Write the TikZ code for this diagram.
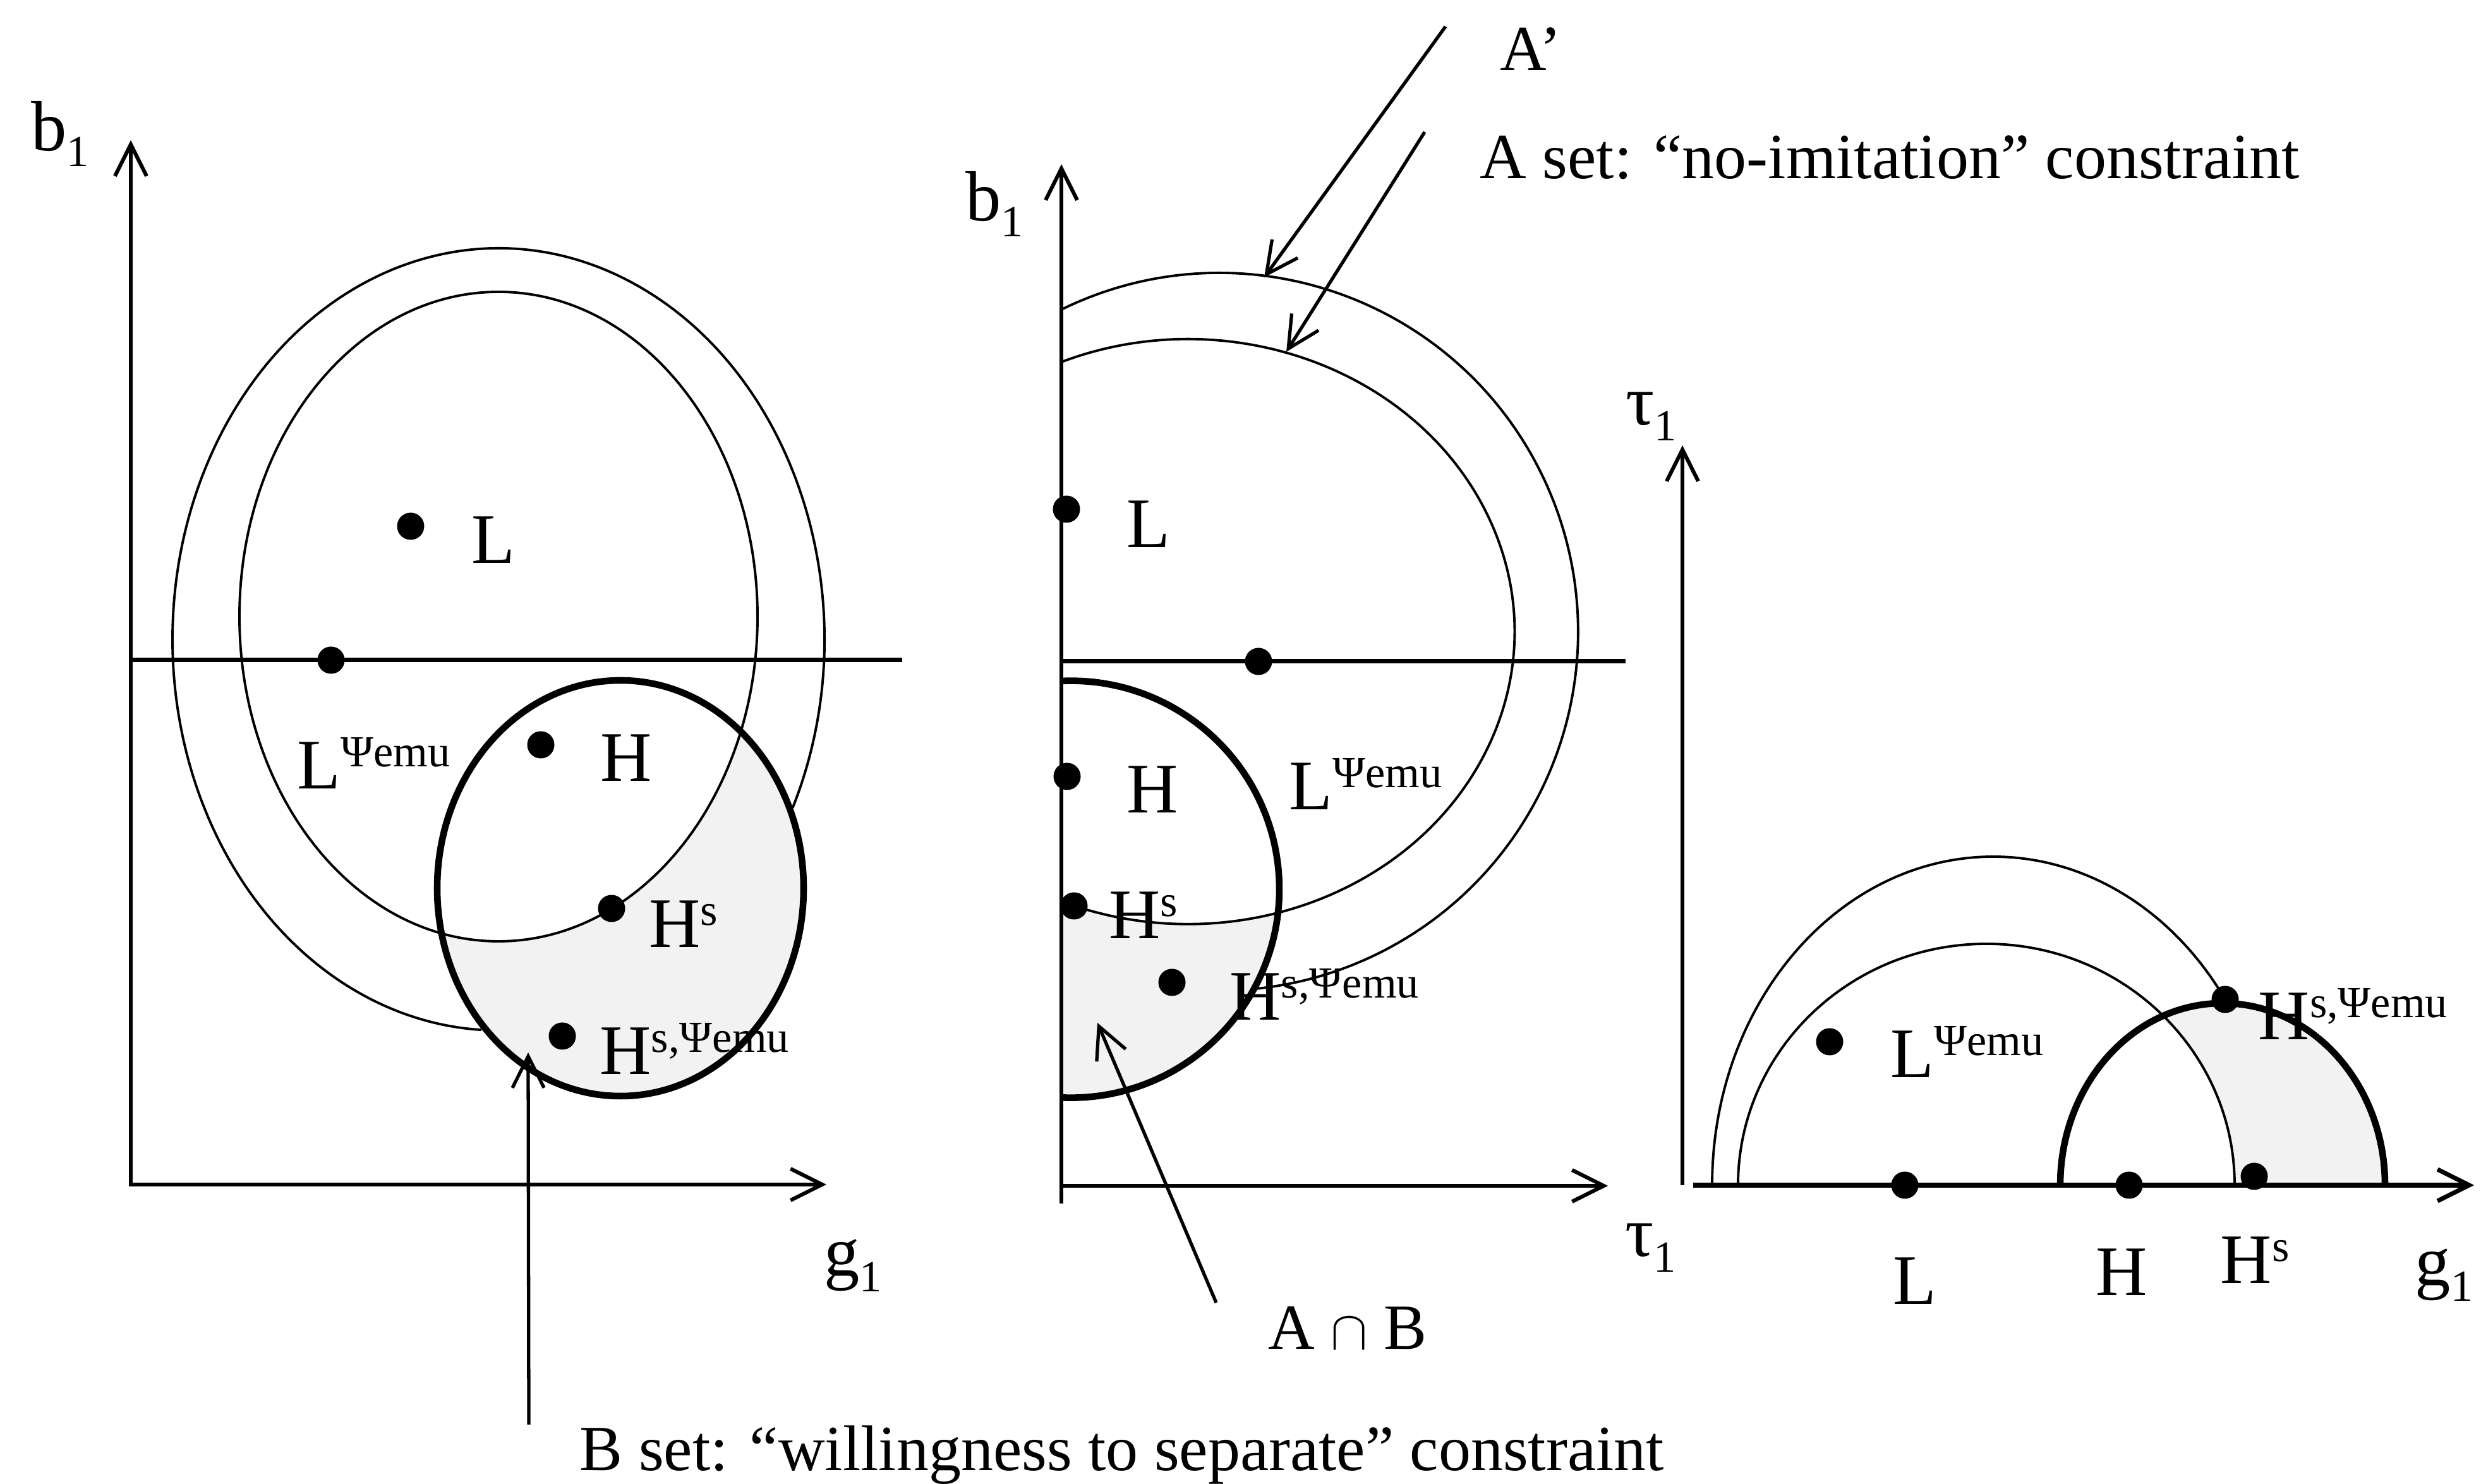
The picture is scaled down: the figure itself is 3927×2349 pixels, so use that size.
\documentclass[tikz,border=0pt]{standalone}
\usepackage{fontspec}
\setmainfont{Liberation Serif}
\usetikzlibrary{arrows.meta}

\newcommand{\sps}[1]{\raisebox{10pt}{\fontsize{20}{20}\selectfont #1}}
\newcommand{\sbs}[1]{\raisebox{-7pt}{\fontsize{20}{20}\selectfont #1}}

\begin{document}
\begin{tikzpicture}[
    x=0.01cm, y=0.01cm,
    >={Straight Barb[length=5mm, width=5mm]},
    every node/.style={inner sep=0pt},
    axes/.style={<->, line width=1.7pt},
    axisline/.style={->, line width=1.7pt},
    pointer/.style={->, line width=1.5pt},
    thincurve/.style={line width=1.1pt},
    bcurve/.style={line width=3pt},
    levelline/.style={line width=2pt},
    abfill/.style={fill=black!5},
    dot/.style={circle, fill=black, minimum size=0.43cm},
    lab/.style={anchor=base west, font=\fontsize{32}{38}\selectfont},
    caption/.style={anchor=base west, font=\fontsize{29}{34}\selectfont},
]

\useasboundingbox (0,0) rectangle (3927,2349);

% ---------------- Panel 1 ----------------
\coordinate (O1) at (207,474);
\coordinate (Y1) at (207,2127);
\coordinate (X1) at (1308,474);
\coordinate (M1) at (207,1304);
\coordinate (M1e) at (1428,1304);

% A n B region
\begin{scope}
    \clip (982,943) ellipse [x radius=290, y radius=329];
    \fill[abfill, even odd rule] (600,500) rectangle (1400,1400)
        (789,1373) ellipse [x radius=410, y radius=514];
\end{scope}

\draw[axes] (Y1) -- (O1) -- (X1);
\draw[levelline] (M1) -- (M1e);

% A and A' curves, B set
\draw[thincurve] (789,1373) ellipse [x radius=410, y radius=514];
\draw[thincurve] (1254.7,1070.5) arc [start angle=-25.5, end angle=267, x radius=516, y radius=619];
\draw[bcurve] (982,943) ellipse [x radius=290, y radius=329];

\node[lab] (b1) at (49,2110) {b\sbs{1}};
\node[lab] (g1) at (1304,329) {g\sbs{1}};

\node[dot] (L1) at (650,1516) {};
\node[lab] (L1lab) at (746,1457) {L};
\node[dot] (Lpsi1) at (524,1304) {};
\node[lab] (Lpsi1lab) at (470,1100) {L\sps{Ψemu}};
\node[dot] (H1) at (856,1170) {};
\node[lab] (H1lab) at (950,1112) {H};
\node[dot] (Hs1) at (968,911) {};
\node[lab] (Hs1lab) at (1027,849) {H\sps{s}};
\node[dot] (HsPsi1) at (890,709) {};
\node[lab] (HsPsi1lab) at (949,648) {H\sps{s,Ψemu}};

\coordinate (Bfoot) at (837,94);
\coordinate (Btip) at (836,683);
\draw[pointer] (Bfoot) -- (Btip);
\node[caption] (Bset) at (917,21) {B set: “willingness to separate” constraint};

% ---------------- Panel 2 ----------------
\coordinate (O2) at (1680,472);
\coordinate (O2b) at (1680,444);
\coordinate (Y2) at (1680,2089);
\coordinate (X2) at (2545,472);
\coordinate (M2) at (1680,1302);
\coordinate (M2e) at (2573,1302);

\begin{scope}
    \clip (1680,400) rectangle (2100,1400);
    \clip (1695,941) circle [radius=330];
    \fill[abfill, even odd rule] (1600,500) rectangle (2100,1400)
        (1880,1349) ellipse [x radius=517, y radius=463];
\end{scope}

\draw[axes] (Y2) -- (O2) -- (X2);
\draw[line width=1.7pt] (O2) -- (O2b);
\draw[levelline] (M2) -- (M2e);

\draw[thincurve] (1680,1859) arc [start angle=116.1, end angle=-84.4, radius=568];
\draw[thincurve] (1680,1776) arc [start angle=112.8, end angle=-110.4, x radius=517, y radius=463];
\draw[bcurve] (1680,1271) arc [start angle=92.6, end angle=-92.6, radius=330];

\node[lab] (b2) at (1528,1999) {b\sbs{1}};
\node[lab] (tau2) at (2572,360) {τ\sbs{1}};

\node[dot] (L2) at (1688,1543) {};
\node[lab] (L2lab) at (1783,1482) {L};
\node[dot] (Lpsi2) at (1992,1302) {};
\node[lab] (Lpsi2lab) at (2040,1067) {L\sps{Ψemu}};
\node[dot] (H2) at (1689,1120) {};
\node[lab] (H2lab) at (1783,1062) {H};
\node[dot] (Hs2) at (1700,915) {};
\node[lab] (Hs2lab) at (1755,863) {H\sps{s}};
\node[dot] (HsPsi2) at (1855,794) {};
\node[lab] (HsPsi2lab) at (1946,734) {H\sps{s,Ψemu}};

% pointers to A' and A
\coordinate (Aptail) at (2288,2307);
\coordinate (Aptip) at (2001,1910);
\coordinate (Atail) at (2255,2140);
\coordinate (Atip) at (2036,1792);
\draw[pointer] (Aptail) -- (Aptip);
\draw[pointer] (Atail) -- (Atip);
\node[caption] (Aprime) at (2374,2237) {A’};
\node[caption] (Aset) at (2342,2066) {A set: “no-imitation” constraint};

\coordinate (ABtail) at (1925,287);
\coordinate (ABtip) at (1737,730);
\draw[pointer] (ABtail) -- (ABtip);
\node[caption] (AB) at (2007,213) {A $\cap$ B};

% ---------------- Panel 3 ----------------
\coordinate (O3) at (2663,473);
\coordinate (Y3) at (2663,1644);
\coordinate (X3s) at (2680,473);
\coordinate (X3) at (3916,473);

\begin{scope}
    \clip (3261,473) arc [start angle=180, end angle=0, x radius=257, y radius=288] -- cycle;
    \fill[abfill, even odd rule] (2700,473) rectangle (3900,800)
        (3144,473) ellipse [x radius=393, y radius=382];
\end{scope}

\draw[axisline] (O3) -- (Y3);
\draw[axisline, line width=2pt] (X3s) -- (X3);

\draw[thincurve] (2710,473) arc [start angle=180, end angle=34.5, x radius=445, y radius=520];
\draw[thincurve] (2751,473) arc [start angle=180, end angle=0, x radius=393, y radius=382];
\draw[bcurve] (3261,473) arc [start angle=180, end angle=0, x radius=257, y radius=288];

\node[lab] (tau3) at (2573,1676) {τ\sbs{1}};
\node[lab] (g3) at (3822,314) {g\sbs{1}};

\node[dot] (Lpsi3) at (2896,700) {};
\node[lab] (Lpsi3lab) at (2992,643) {L\sps{Ψemu}};
\node[dot] (L3) at (3015,473) {};
\node[lab] (L3lab) at (2996,284) {L};
\node[dot] (H3) at (3370,473) {};
\node[lab] (H3lab) at (3317,298) {H};
\node[dot] (Hs3) at (3568,487) {};
\node[lab] (Hs3lab) at (3514,317) {H\sps{s}};
\node[dot] (HsPsi3) at (3522,767) {};
\node[lab] (HsPsi3lab) at (3574,703) {H\sps{s,Ψemu}};

\end{tikzpicture}
\end{document}
